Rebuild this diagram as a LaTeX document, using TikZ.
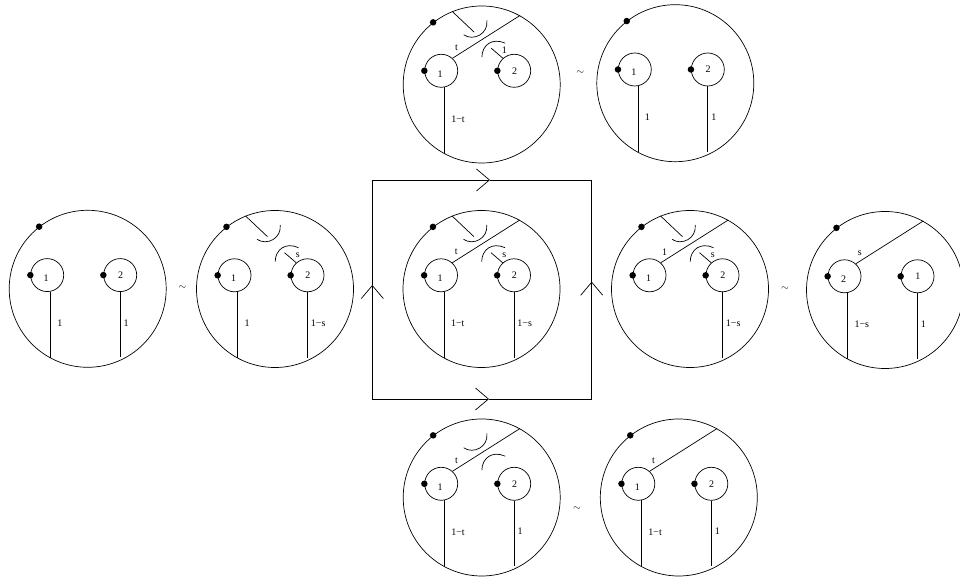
\documentclass[tikz,border=0pt]{standalone}
\usepackage{fontspec}
\setmainfont{Liberation Serif}
\usetikzlibrary{arrows.meta}

% one big disc with its two holes
\newcommand{\disk}[5]{
\begin{scope}[shift={(#2,#3)}]
\node[bigdisk] (#1big) at (0,0) {};
\node[hole] (#1one) at (-40.5,13.7) {};
\node[hole] (#1two) at (32.5,13.7) {};
\node[dot] (#1mark) at (#1big.128) {};
\node[dot] (#1markone) at (#1one.west) {};
\node[dot] (#1marktwo) at (#1two.west) {};
\node[tag] (#1labone) at (-41.5,10.7) {#4};
\node[tag] (#1labtwo) at (32.8,13.7) {#5};
\coordinate (#1footone) at (-37.5,-69);
\coordinate (#1foottwo) at (32.5,-68.7);
\coordinate (#1upend) at (-7.5,52.3);
\coordinate (#1lowend) at (9.5,36.3);
\end{scope}
}
% stems from the holes down to the rim
\newcommand{\stemone}[2]{
\draw (#1one.-79.5) -- (#1one.-79.5 |- #1footone);
\node[tag,anchor=west] (#1stemone) at ([shift={(-30.8,-34.3)}]#1big.center) {#2};
}
\newcommand{\stemtwo}[2]{
\draw (#1two.south) -- (#1foottwo);
\node[tag,anchor=west] (#1stemtwo) at ([shift={(35.6,-34)}]#1big.center) {#2};
}
% chord from hole to rim
\newcommand{\chord}[2]{
\draw (#1one.48.5) -- (#1big.61.6);
\node[tag] (#1chordlab) at ([shift={(-25.3,37.2)}]#1big.center) {#2};
}
% the two caps
\newcommand{\capup}[1]{
\draw[shift={(#1big.center)}] (-18,49.7) .. controls (-8.2,43) and (6.8,50.7) .. (5.2,64);
}
\newcommand{\caplow}[1]{
\draw[shift={(#1big.center)}] (0.2,27.3) .. controls (0.2,39) and (10.2,47.3) .. (23.5,41.3);
}
\newcommand{\tickup}[1]{\draw (#1big.112) -- (#1upend);}
\newcommand{\ticklow}[2]{
\draw (#1two.132) -- (#1lowend);
\node[tag] (#1ticklab) at ([shift={(22.7,34)}]#1big.center) {#2};
}

\begin{document}
\begin{tikzpicture}[
    x=1pt,y=1pt,
    line width=0.7pt,
    >={Straight Barb[length=13pt,width=22pt]},
    bigdisk/.style={draw,circle,inner sep=0pt,minimum size=157pt},
    hole/.style={draw,circle,inner sep=0pt,minimum size=33pt},
    dot/.style={fill,circle,inner sep=0pt,minimum size=6.5pt},
    tag/.style={inner sep=0pt,font=\fontsize{10}{11}\selectfont}
]
\useasboundingbox (0,0) rectangle (960,580);

% left
\disk{a}{87.7}{291.2}{1}{2}
\stemone{a}{1}
\stemtwo{a}{1}
\node[tag] (simleft) at (182.5,292.3) {$\sim$};

\disk{b}{275}{291}{1}{2}
\stemone{b}{1}
\stemtwo{b}{1−s}
\capup{b}
\caplow{b}
\tickup{b}
\ticklow{b}{s}

% top
\disk{top}{481.7}{495.5}{1}{2}
\stemone{top}{1−t}
\chord{top}{t}
\capup{top}
\caplow{top}
\tickup{top}
\ticklow{top}{1}
\node[tag] (simtop) at (580.3,507) {$\sim$};
\disk{topr}{675.3}{496.8}{1}{2}
\stemone{topr}{1}
\stemtwo{topr}{1}

% middle
\disk{mid}{481.5}{291}{1}{2}
\stemone{mid}{1−t}
\stemtwo{mid}{1−s}
\chord{mid}{t}
\capup{mid}
\caplow{mid}
\tickup{mid}
\ticklow{mid}{s}

% square
\coordinate (sw) at (372.3,181);
\coordinate (se) at (591.7,181);
\coordinate (ne) at (591.7,400);
\coordinate (nw) at (372.3,400);
\coordinate (tipl) at (372.3,295);
\coordinate (tipr) at (591.7,298.3);
\coordinate (tipt) at (490,400);
\coordinate (tipb) at (489,181);
\draw[->] (sw) -- (tipl);
\draw (tipl) -- (nw);
\draw[->] (nw) -- (tipt);
\draw (tipt) -- (ne);
\draw[->] (se) -- (tipr);
\draw (tipr) -- (ne);
\draw[->] (sw) -- (tipb);
\draw (tipb) -- (se);

% right
\disk{c}{690}{291}{1}{2}
\stemtwo{c}{1−s}
\chord{c}{1}
\capup{c}
\caplow{c}
\tickup{c}
\ticklow{c}{s}
\node[tag] (simright) at (785,291.7) {$\sim$};
\disk{d}{885}{290}{2}{1}
\stemone{d}{1−s}
\stemtwo{d}{1}
\chord{d}{s}

% bottom
\disk{bot}{481.7}{82.5}{1}{2}
\stemone{bot}{1−t}
\stemtwo{bot}{1}
\chord{bot}{t}
\capup{bot}
\caplow{bot}
\node[tag] (simbot) at (577,71) {$\sim$};
\disk{botr}{678.8}{82.5}{1}{2}
\stemone{botr}{1−t}
\stemtwo{botr}{1}
\chord{botr}{t}
\end{tikzpicture}
\end{document}
